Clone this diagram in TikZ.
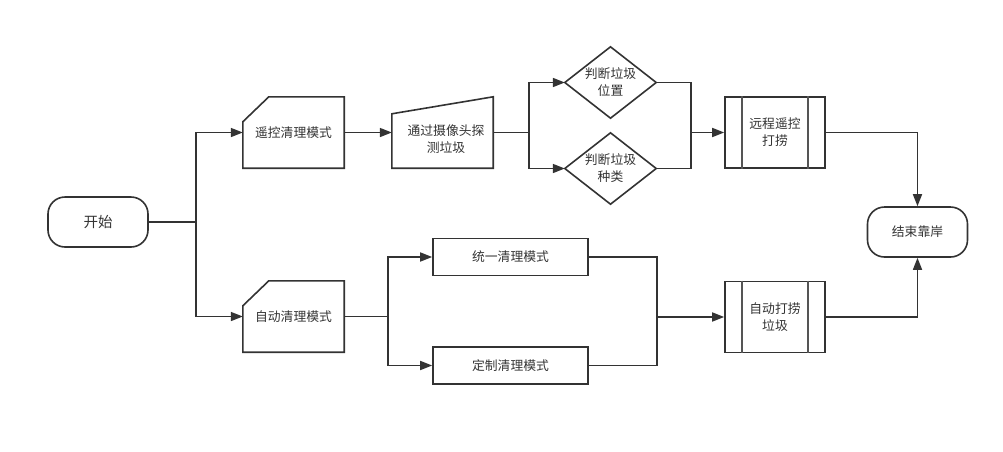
\documentclass[tikz,border=0pt]{standalone}
\usepackage{fontspec}
\newfontfamily\cjk{Noto Sans CJK SC}
\usetikzlibrary{arrows.meta,calc}
\definecolor{ink}{HTML}{333333}
\definecolor{thin}{HTML}{555555}
\begin{document}
\begin{tikzpicture}[x=1pt,y=-1pt,
  base/.style={font=\cjk\fontsize{12.8}{17}\selectfont, text=ink, align=center, inner sep=0pt},
  term/.style={base, draw=ink, line width=1.6pt, rounded corners=17pt, minimum width=100pt, minimum height=50pt},
  procbox/.style={base, draw=ink, line width=1.6pt, minimum width=155pt, minimum height=37pt},
  sub/.style={base, draw=ink, line width=1.6pt, minimum width=100pt, minimum height=71pt},
  outline/.style={draw=ink, line width=1.6pt},
  conn/.style={draw=ink, line width=1.6pt},
  arr/.style={conn, -{Triangle[length=12pt,width=9pt]}},
]
\useasboundingbox (0,0) rectangle (1003,451);

% terminals
\node[term, font=\cjk\fontsize{14.5}{17}\selectfont] (start) at (98,222) {开始};
\node[term] (end) at (917.5,232) {结束靠岸};

% card-shaped mode boxes
\node[base, minimum width=101pt, minimum height=71pt] (m1) at (293.5,132.5) {遥控清理模式};
\node[base, minimum width=101pt, minimum height=71pt] (m2) at (293.5,316.5) {自动清理模式};
\foreach \m in {m1,m2}{
  \draw[outline] ($(\m.north west)+(26,0)$) -- (\m.north east) -- (\m.south east)
     -- (\m.south west) -- ($(\m.north west)+(0,25)$) -- cycle;
}

% manual input (trapezoid)
\node[base, minimum width=101pt, minimum height=71pt] (trap) at (442.5,132.5) {};
\draw[outline] (trap.south west) -- ($(trap.north west)+(0,17)$) -- (trap.north east)
   -- (trap.south east) -- cycle;
\node[base] (traptext) at (446,139) {通过摄像头探\\测垃圾};

% diamonds
\node[base, minimum width=91pt, minimum height=71pt] (d1) at (610.5,82.5) {判断垃圾\\位置};
\node[base, minimum width=91pt, minimum height=71pt] (d2) at (610.5,168.5) {判断垃圾\\种类};
\foreach \d in {d1,d2}{
  \draw[outline] (\d.west) -- (\d.north) -- (\d.east) -- (\d.south) -- cycle;
}

% subprocess boxes
\node[sub] (p1) at (775,132.5) {远程遥控\\打捞};
\node[sub] (p2) at (775,317) {自动打捞\\垃圾};
\foreach \p in {p1,p2}{
  \draw[draw=thin, line width=1.2pt] ($(\p.north)+(-33,0)$) -- ($(\p.south)+(-33,0)$);
  \draw[draw=thin, line width=1.2pt] ($(\p.north)+(33,0)$) -- ($(\p.south)+(33,0)$);
}

% process boxes
\node[procbox] (u1) at (510.5,257) {统一清理模式};
\node[procbox] (u2) at (510.5,365.5) {定制清理模式};

% junction coordinates
\coordinate (j1) at (196,222);
\coordinate (j2) at (529,132.5);
\coordinate (j3) at (691,132.5);
\coordinate (j4) at (388,316.5);
\coordinate (j5) at (657,317);

% connectors
\draw[conn] (start.east) -- (j1);
\draw[arr] (j1) |- (m1.west);
\draw[arr] (j1) |- (m2.west);
\draw[arr] (m1.east) -- (trap.west);
\draw[conn] (trap.east) -- (j2);
\draw[arr] (j2) |- (d1.west);
\draw[arr] (j2) |- (d2.west);
\draw[conn] (d1.east) -| (j3);
\draw[conn] (d2.east) -| (j3);
\draw[arr] (j3) -- (p1.west);
\draw[arr] (p1.east) -| (end.north);
\draw[conn] (m2.east) -- (j4);
\draw[arr] (j4) |- (u1.west);
\draw[arr] (j4) |- (u2.west);
\draw[conn] (u1.east) -| (j5);
\draw[conn] (u2.east) -| (j5);
\draw[arr] (j5) -- (p2.west);
\draw[arr] (p2.east) -| (end.south);
\end{tikzpicture}
\end{document}
